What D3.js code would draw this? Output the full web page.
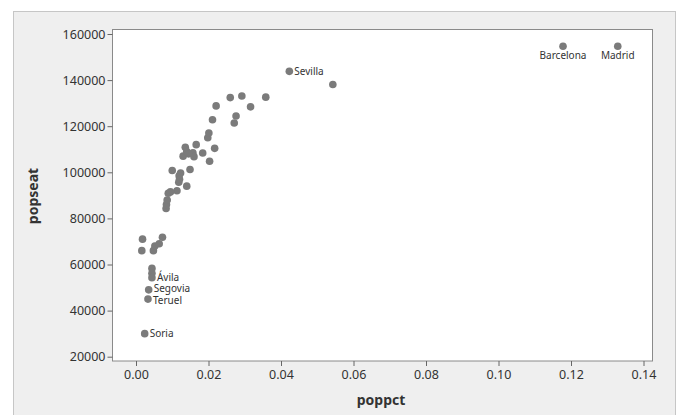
<!DOCTYPE html>
<html>
<head>
<meta charset="utf-8">
<script src="https://cdn.jsdelivr.net/npm/d3@7"></script>
<style>
  body { margin: 0; background: #fff; }
  text { font-family: 'Noto Sans', sans-serif; fill: #333; }
</style>
</head>
<body>
<script>
// poppct / popseat pairs
var poppct = [0.0018, 0.0016, 0.0048, 0.0052, 0.0064, 0.0073, 0.0044, 0.0044, 0.0044, 0.0035,
              0.0033, 0.0024, 0.0083, 0.0084, 0.0086, 0.0089, 0.0100, 0.0113, 0.0118, 0.0119,
              0.0123, 0.0140, 0.0149, 0.0130, 0.0136, 0.0140, 0.0157, 0.0160, 0.0166, 0.0184,
              0.0203, 0.0217, 0.0198, 0.0201, 0.0211, 0.0221, 0.0260, 0.0292, 0.0316, 0.0358,
              0.0271, 0.0276, 0.0423, 0.0543, 0.1178, 0.1329, 0.0095, 0.0145, 0.0120];
var popseat = [71000, 66000, 66000, 68000, 69000, 71800, 58300, 56200, 54300, 49000,
               45000, 30000, 84300, 86000, 88000, 90900, 100800, 92000, 95700, 98500,
               99700, 94000, 101200, 107000, 110900, 109000, 108500, 106800, 112000, 108400,
               104800, 110400, 115000, 117000, 122800, 128800, 132400, 133100, 128400, 132600,
               121400, 124400, 143800, 138100, 154700, 154700, 91500, 108000, 97000];
// labelled provinces: index into the arrays above, and where the text sits
var labelIdx = [8, 9, 10, 11, 42, 44, 45];
var labelText = ['Ávila', 'Segovia', 'Teruel', 'Soria', 'Sevilla', 'Barcelona', 'Madrid'];
var labelPos = ['right', 'right', 'right', 'right', 'right', 'below', 'below'];
var labelNudge = [0, -1.5, 1.5, 0, 0, 0, 0];

var xTicks = [0, 0.02, 0.04, 0.06, 0.08, 0.10, 0.12, 0.14];
var yTicks = [20000, 40000, 60000, 80000, 100000, 120000, 140000, 160000];

var W = 679, H = 415;
var box = {left: 112.5, top: 29.5, right: 652.5, bottom: 361};

var svg = d3.select('body').append('svg')
    .attr('width', W)
    .attr('height', H);

// grey panel
svg.append('rect')
    .attr('x', 13.5).attr('y', 11.5)
    .attr('width', 662).attr('height', 420)
    .attr('fill', '#efefef')
    .attr('stroke', '#c6c6c6');

svg.append('rect')
    .attr('x', box.left).attr('y', box.top)
    .attr('width', box.right - box.left).attr('height', box.bottom - box.top)
    .attr('fill', '#fff')
    .attr('stroke', '#8a8a8a');

var x = d3.scaleLinear()
    .domain([0, 0.14])
    .range([136, 643.5]);

var y = d3.scaleLinear()
    .domain([20000, 160000])
    .range([356.7, 34]);

var xAxis = d3.axisBottom(x)
    .tickValues(xTicks)
    .tickFormat(d3.format('.2f'))
    .tickSize(5)
    .tickPadding(4);

var yAxis = d3.axisLeft(y)
    .tickValues(yTicks)
    .tickFormat(d3.format('d'))
    .tickSize(5)
    .tickPadding(2);

var gx = svg.append('g')
    .attr('transform', 'translate(0,' + box.bottom + ')')
    .call(xAxis);

var gy = svg.append('g')
    .attr('transform', 'translate(' + box.left + ',0)')
    .call(yAxis);

[gx, gy].forEach(function(g) {
  g.select('.domain').remove();
  g.selectAll('line').attr('stroke', '#666');
  g.selectAll('text')
    .attr('font-size', '12.5px')
    .style('font-family', "'Noto Sans', sans-serif")
    .attr('fill', '#333');
});

svg.append('text')
    .attr('transform', 'translate(38,196) rotate(-90)')
    .attr('text-anchor', 'middle')
    .attr('font-size', '14px')
    .attr('font-weight', 'bold')
    .text('popseat');

svg.append('text')
    .attr('x', 381)
    .attr('y', 405)
    .attr('text-anchor', 'middle')
    .attr('font-size', '14px')
    .attr('font-weight', 'bold')
    .text('poppct');

svg.append('g')
  .selectAll('circle')
  .data(d3.range(poppct.length))
  .enter().append('circle')
    .attr('cx', function(i) { return x(poppct[i]); })
    .attr('cy', function(i) { return y(popseat[i]); })
    .attr('r', 3.8)
    .attr('fill', '#7b7b7b');

svg.append('g')
  .selectAll('text')
  .data(d3.range(labelIdx.length))
  .enter().append('text')
    .attr('x', function(k) {
      var cx = x(poppct[labelIdx[k]]);
      return labelPos[k] === 'right' ? cx + 5 : cx;
    })
    .attr('y', function(k) {
      var cy = y(popseat[labelIdx[k]]) + labelNudge[k];
      return labelPos[k] === 'right' ? cy + 3.5 : cy + 13;
    })
    .attr('text-anchor', function(k) { return labelPos[k] === 'right' ? 'start' : 'middle'; })
    .attr('font-size', '10px')
    .text(function(k) { return labelText[k]; });
</script>
</body>
</html>
